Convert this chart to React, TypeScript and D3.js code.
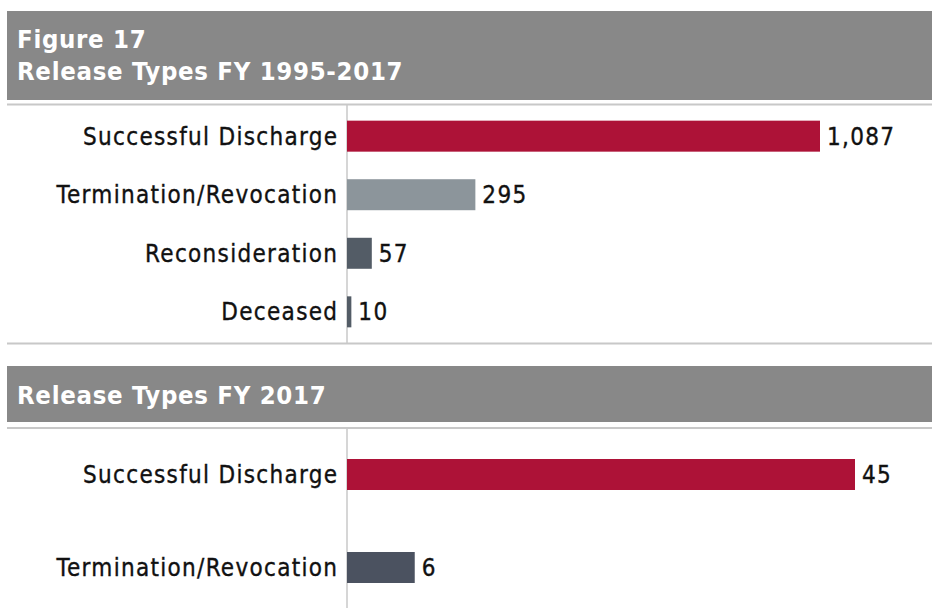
import React from "react";
import * as d3 from "d3";

const W = 932;
const H = 608;

const categoriesAll = ["Successful Discharge", "Termination/Revocation", "Reconsideration", "Deceased"];
const valuesAll = [1087, 295, 57, 10];
const colorsAll = ["#AD1237", "#8C959B", "#535C66", "#535C66"];

const categories2017 = ["Successful Discharge", "Termination/Revocation"];
const values2017 = [45, 6];
const colors2017 = ["#AD1237", "#4B5260"];

const FONT = "'DejaVu Sans Condensed', 'DejaVu Sans', sans-serif";
const LABEL_SIZE = 24;
const LABEL_LS = 1.3;
const TITLE_SIZE = 25.5;
const TITLE_LS = 0.7;

function Panel({ cats, vals, cols, top, bottom, maxX, fmt }) {
  const x = d3.scaleLinear().domain([0, d3.max(vals)]).range([347, maxX]);
  const y = d3.scaleBand().domain(cats).range([top, bottom]).paddingInner(cats.length > 2 ? 0.97 : 2).paddingOuter(0.5);
  return (
    <g>
      {cats.map((c, i) => {
        const yc = y(c) + y.bandwidth() / 2;
        return (
          <g key={c}>
            <text x={337 + LABEL_LS} y={yc} dy="0.36em" textAnchor="end" fontFamily={FONT} fontSize={LABEL_SIZE} letterSpacing={LABEL_LS} fill="#111" stroke="#111" strokeWidth={0.35}>
              {c}
            </text>
            <rect x={x(0)} y={yc - 15.5} width={Math.max(x(vals[i]) - x(0), 3)} height={31} fill={cols[i]} />
            <text x={Math.max(x(vals[i]), x(0) + 3) + 7} y={yc} dy="0.36em" fontFamily={FONT} fontSize={LABEL_SIZE} letterSpacing={LABEL_LS} fill="#111" stroke="#111" strokeWidth={0.35}>
              {fmt(vals[i])}
            </text>
          </g>
        );
      })}
    </g>
  );
}

export default function App() {
  const fmt = d3.format(",");
  return (
    <svg width={W} height={H} style={{ position: "absolute", left: 0, top: 0, background: "#fff" }}>
      <rect x={0} y={0} width={W} height={H} fill="#fff" />
      {/* Header 1 */}
      <rect x={7} y={11} width={W - 7} height={89} fill="#888888" />
      <text x={17} y={48} fontFamily={FONT} fontWeight="bold" fontSize={TITLE_SIZE} letterSpacing={TITLE_LS} fill="#fff">Figure 17</text>
      <text x={17} y={80} fontFamily={FONT} fontWeight="bold" fontSize={TITLE_SIZE} letterSpacing={TITLE_LS} fill="#fff">Release Types FY 1995-2017</text>
      <line x1={7} x2={W} y1={104.5} y2={104.5} stroke="#c8c8c8" strokeWidth={2} />
      <line x1={347} x2={347} y1={105} y2={343} stroke="#c8c8c8" strokeWidth={1.5} />
      <line x1={7} x2={W} y1={343.5} y2={343.5} stroke="#c8c8c8" strokeWidth={2} />
      <Panel cats={categoriesAll} vals={valuesAll} cols={colorsAll} top={106} bottom={342} maxX={820} fmt={fmt} />

      {/* Header 2 */}
      <rect x={7} y={366} width={W - 7} height={56} fill="#888888" />
      <text x={17} y={404} fontFamily={FONT} fontWeight="bold" fontSize={TITLE_SIZE} letterSpacing={TITLE_LS} fill="#fff">Release Types FY 2017</text>
      <line x1={7} x2={W} y1={428} y2={428} stroke="#c8c8c8" strokeWidth={2} />
      <line x1={347} x2={347} y1={429} y2={H} stroke="#c8c8c8" strokeWidth={1.5} />
      <Panel cats={categories2017} vals={values2017} cols={colors2017} top={428} bottom={614} maxX={855} fmt={fmt} />
    </svg>
  );
}
